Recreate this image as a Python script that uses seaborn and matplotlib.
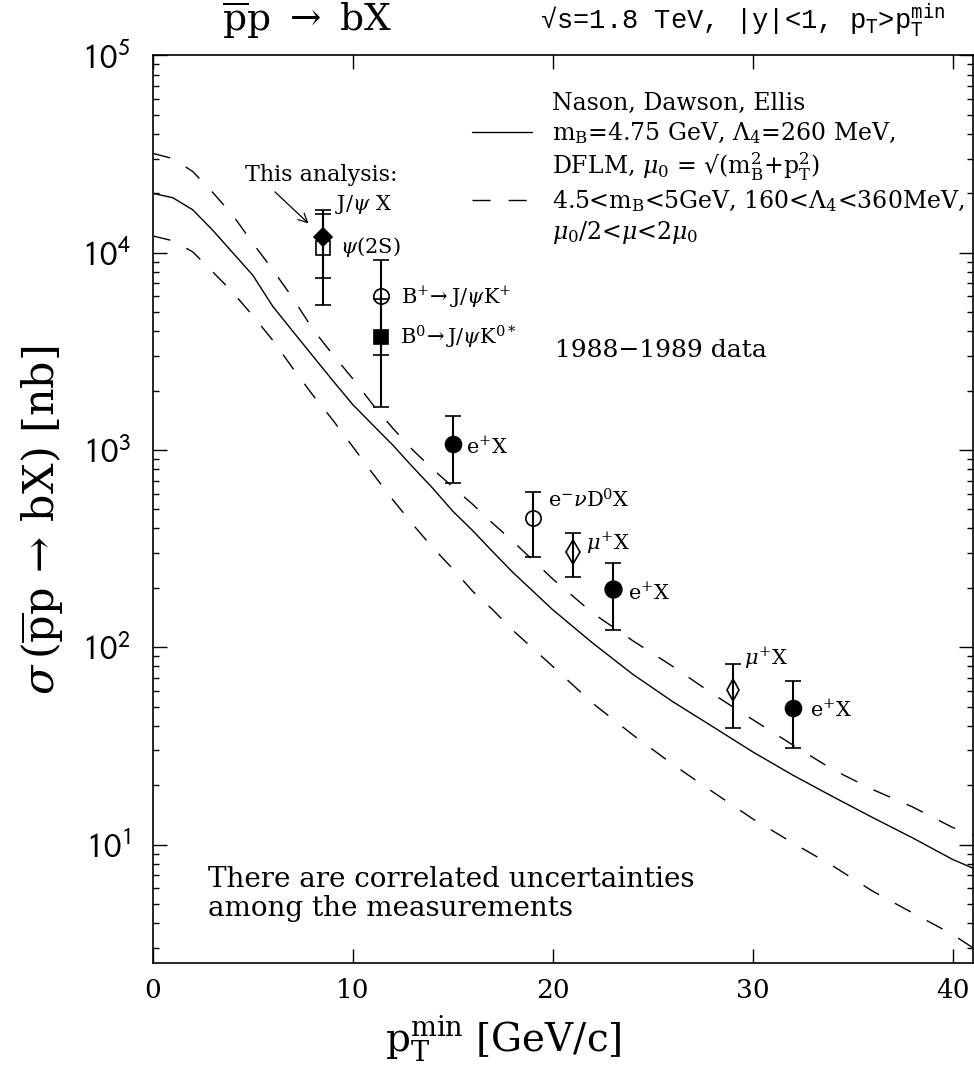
import matplotlib
matplotlib.use("Agg")
import matplotlib.pyplot as plt
from matplotlib.lines import Line2D
from matplotlib.ticker import NullLocator, LogLocator
import pandas as pd
import seaborn as sns

# NLO QCD prediction for sigma(p_T > p_T^min), |y| < 1, in nb
pt_min = [0, 1, 2, 3, 4, 5, 6, 7, 8, 9, 10, 11, 12, 13, 14, 15, 16, 17, 18,
          20, 22, 24, 26, 28, 30, 32, 34, 36, 38, 40, 41]
sigma_central = [20000, 19000, 16500, 13000, 10000, 7700, 5350, 4000, 3000,
                 2250, 1700, 1340, 1060, 820, 640, 490, 390, 305, 240,
                 155, 105, 73, 53, 39.6, 29.5, 22.5, 17.5, 13.7, 10.8, 8.4, 7.6]
sigma_upper = [31900, 30000, 25800, 20200, 15500, 11200, 8200, 5900, 4100,
               3050, 2300, 1700, 1290, 1000, 800, 650, 530, 425, 345,
               222, 149, 108, 80, 58, 43, 32, 24, 19, 15.5, 12.2, 11.2]
sigma_lower = [12160, 11500, 10100, 8000, 6300, 4800, 3600, 2600, 1900,
               1420, 1040, 760, 560, 420, 320, 250, 192, 155, 122,
               80, 52, 36, 25.5, 18.5, 13.5, 10.2, 7.8, 5.8, 4.5, 3.5, 3.0]

# Measurements
meas_pt = [8.5, 8.5, 11.4, 11.4, 15, 19, 21, 23, 29, 32]
meas_sigma = [12050, 10570, 6050, 3730, 1073, 451, 305, 197, 60.8, 49.1]
meas_low = [7450, 5430, 3030, 1660, 678, 286, 226, 123, 39.1, 31.0]
meas_high = [15700, 16450, 9160, 5800, 1493, 615, 381, 268, 82.2, 67.5]
meas_labels = [r'J/$\psi$ X', r'$\psi$(2S)',
               r'B$^{+}\!\rightarrow$J/$\psi$K$^{+}$',
               r'B$^{0}\!\rightarrow$J/$\psi$K$^{0*}$',
               r'e$^{+}$X', r'e$^{-}\nu$D$^{0}$X', r'$\mu^{+}$X',
               r'e$^{+}$X', r'$\mu^{+}$X', r'e$^{+}$X']

x_ticks = [0, 10, 20, 30, 40]
x_tick_labels = ['0', '10', '20', '30', '40']
y_ticks = [1e1, 1e2, 1e3, 1e4, 1e5]
y_tick_labels = [r'$10^{1}$', r'$10^{2}$', r'$10^{3}$', r'$10^{4}$', r'$10^{5}$']

legend_text = ['Nason, Dawson, Ellis',
               r'm$_\mathrm{B}$=4.75 GeV, $\Lambda_4$=260 MeV,',
               r'DFLM, $\mu_0$ = √(m$_\mathrm{B}^{2}$+p$_\mathrm{T}^{2}$)',
               r'4.5<m$_\mathrm{B}$<5GeV, 160<$\Lambda_4$<360MeV,',
               r'$\mu_0$/2<$\mu$<2$\mu_0$']

# marker, filled, size (pt)
marker_style = [('D', True, 9), ('s', False, 9.5), ('o', False, 11),
                ('s', True, 9.5), ('o', True, 11.5), ('o', False, 11),
                ('d', False, 12), ('o', True, 12), ('d', False, 11),
                ('o', True, 11.5)]
# label offsets from each marker, in pixels
label_offset = [(12, 32), (17, 1), (20, -1), (19, 0), (13, -3), (15, 18),
                (13, 9), (15, -4), (11, 32), (17, -2)]

sns.set_theme(style="ticks")
plt.rcParams['font.family'] = ['DejaVu Serif']
plt.rcParams['mathtext.fontset'] = 'dejavuserif'
plt.rcParams['axes.linewidth'] = 1.2
for key in ('text.color', 'axes.labelcolor', 'xtick.color', 'ytick.color',
            'axes.edgecolor', 'xtick.labelcolor', 'ytick.labelcolor'):
    plt.rcParams[key] = 'black'

fig = plt.figure(figsize=(9.74, 10.72), dpi=100)
ax = fig.add_axes([0.1568, 0.1020, 0.8419, 0.8463])

curves = pd.DataFrame({'pt': pt_min, 'central': sigma_central,
                       'upper': sigma_upper, 'lower': sigma_lower})
dash = (0, (13, 13))
sns.lineplot(data=curves, x='pt', y='central', color='black', lw=1.0, ax=ax)
sns.lineplot(data=curves, x='pt', y='upper', color='black', lw=1.0,
             linestyle=dash, ax=ax)
sns.lineplot(data=curves, x='pt', y='lower', color='black', lw=1.0,
             linestyle=dash, ax=ax)

for i in range(len(meas_pt)):
    mk, filled, ms = marker_style[i]
    err = [[meas_sigma[i] - meas_low[i]], [meas_high[i] - meas_sigma[i]]]
    ax.errorbar([meas_pt[i]], [meas_sigma[i]], yerr=err, fmt=mk, ms=ms,
                mfc='black' if filled else 'none', mec='black', mew=1.2,
                ecolor='black', elinewidth=1.5, capsize=5.5, capthick=1.4,
                zorder=3)
    ax.annotate(meas_labels[i], xy=(meas_pt[i], meas_sigma[i]),
                xytext=label_offset[i], textcoords='offset pixels',
                ha='left', va='center', fontsize=15)

ax.annotate('This analysis:', xy=(meas_pt[0], meas_sigma[0]),
            xytext=(-1, 62), textcoords='offset pixels', ha='center',
            va='center', fontsize=16,
            arrowprops=dict(arrowstyle='->', color='black', lw=0.9,
                            relpos=(0.15, 0.0), shrinkA=3, shrinkB=14))

ax.set_yscale('log')
ax.set_xlim(0, 41)
ax.set_ylim(2.52, 1e5)

ax.set_xticks(x_ticks, labels=x_tick_labels)
ax.xaxis.set_minor_locator(NullLocator())
ax.set_yticks(y_ticks, labels=y_tick_labels)
ax.yaxis.set_minor_locator(LogLocator(base=10, subs=range(2, 10)))
ax.tick_params(which='both', direction='in', top=True, right=True,
               color='black', width=1.0)
ax.tick_params(which='major', length=10)
ax.tick_params(which='minor', length=4)
ax.tick_params(axis='x', which='major', pad=11, labelsize=19)
ax.tick_params(axis='y', which='major', pad=16, labelsize=25,
               labelfontfamily='Liberation Sans')
for t in ax.get_yticklabels():
    t.set_math_fontfamily('stixsans')
for s in ax.spines.values():
    s.set_color('black')

ax.set_xlabel(r'p$_\mathrm{T}^\mathrm{min}$ [GeV/c]', fontsize=28)
ax.xaxis.set_label_coords(0.427, -0.056)
ax.set_ylabel(r'$\sigma\,(\overline{\mathrm{p}}\mathrm{p}\,\rightarrow\,\mathrm{bX})$ [nb]',
              fontsize=31)
ax.yaxis.set_label_coords(-0.106, 0.488)

handles = [Line2D([], [], linestyle='none'),
           Line2D([], [], color='black', lw=1.0),
           Line2D([], [], linestyle='none'),
           Line2D([], [], color='black', lw=1.0, linestyle=dash),
           Line2D([], [], linestyle='none')]
ax.legend(handles, legend_text, loc='upper left', bbox_to_anchor=(0.389, 0.960),
          frameon=False, fontsize=17, handlelength=2.55, handletextpad=0.87,
          labelspacing=0.22, borderpad=0, borderaxespad=0, labelcolor='black')

ax.text(0.4906, 0.6753, '1988\u22121989 data', transform=ax.transAxes,
        ha='left', va='center', fontsize=18)
ax.text(0.0675, 0.0757, 'There are correlated uncertainties\namong the measurements',
        transform=ax.transAxes, ha='left', va='center', fontsize=20,
        linespacing=1.1)

fig.text(222 / 974, 1 - 20 / 1072, r'$\overline{\mathrm{p}}$p $\rightarrow$ bX',
         ha='left', va='center', fontsize=27)
fig.text(540 / 974, 1 - 20 / 1072,
         r'√s=1.8 TeV, |y|<1, p$_\mathtt{T}$>p$_\mathtt{T}^\mathtt{min}$',
         ha='left', va='center', fontsize=19.5, fontfamily='Liberation Mono')

fig.savefig('out.png', dpi=100, facecolor='white')
